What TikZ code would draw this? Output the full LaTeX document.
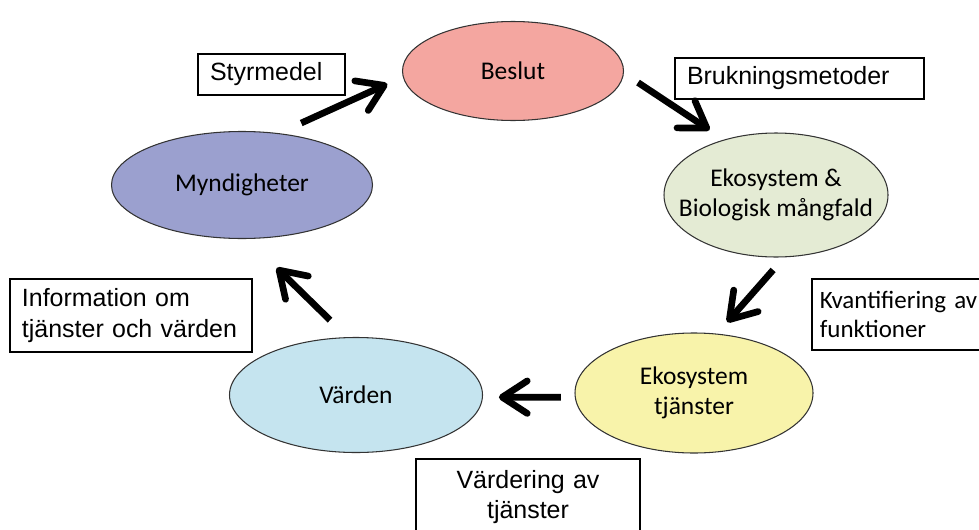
\documentclass[tikz,border=0pt]{standalone}
\usepackage{fontspec}
\setmainfont{Carlito}
\newfontfamily\arialfont{Liberation Sans}
\usepackage{tikz}
\usetikzlibrary{shapes.geometric,arrows.meta,positioning}
\definecolor{beslutfill}{RGB}{244,166,160}
\definecolor{myndfill}{RGB}{155,160,207}
\definecolor{ekofill}{RGB}{228,235,212}
\definecolor{tjanstfill}{RGB}{248,243,170}
\definecolor{vardenfill}{RGB}{197,228,239}

\begin{document}
\begin{tikzpicture}[
  eco/.style={ellipse,draw=black!80,line width=0.6pt,inner sep=0pt,outer sep=0pt,align=center,font=\fontsize{14.5}{17}\selectfont},
  tag/.style={rectangle,draw=black,line width=0.9pt,inner xsep=0.24cm,inner ysep=0pt,font=\arialfont\fontsize{14.2}{17.5}\selectfont},
  flow/.style={-{Straight Barb[length=5mm,width=6.5mm,round]},line width=3.8pt}
]
%
\useasboundingbox (0,0) rectangle (19.58cm,10.58cm);
%
\node[eco,fill=beslutfill,minimum width=4.42cm,minimum height=1.98cm] (v0) at (10.26cm,9.16cm) {Beslut};
\node[eco,fill=myndfill,minimum width=5.22cm,minimum height=2.14cm] (v1) at (4.84cm,6.88cm) {Myndigheter};
\node[eco,fill=ekofill,minimum width=4.48cm,minimum height=2.48cm,inner xsep=-0.6cm] (v2) at (15.52cm,6.68cm) {Ekosystem \&\\Biologisk mångfald};
\node[eco,fill=tjanstfill,minimum width=4.76cm,minimum height=2.40cm] (v3) at (13.88cm,2.72cm) {Ekosystem\\tjänster};
\node[eco,fill=vardenfill,minimum width=5.06cm,minimum height=2.30cm] (v4) at (7.12cm,2.68cm) {Värden};
%
\node[tag,text width=2.46cm,align=left,minimum height=0.82cm] (b0) at (5.43cm,9.09cm) {Styrmedel};
\node[tag,text width=4.50cm,align=left,minimum height=0.82cm] (b1) at (15.99cm,9.01cm) {Brukningsmetoder};
\node[tag,font=\fontsize{14.2}{16.5}\selectfont,inner xsep=0.16cm,text width=3.4cm,align=left,minimum height=1.42cm,anchor=west] (b2) at (16.22cm,4.29cm) {Kvantifiering av\\funktioner};
\node[tag,text width=4.36cm,align=left,minimum height=1.46cm] (b3) at (2.62cm,4.27cm) {Information om\\tjänster och värden};
\node[tag,text width=4.00cm,align=center,minimum height=1.52cm] (b4) at (10.56cm,0.64cm) {Värdering av\\tjänster};
%
\draw[flow,shorten <=0.51cm,shorten >=0.35cm] (v1.55) -- (v0.183);
\draw[flow,shorten <=0.35cm,shorten >=0.36cm] (v0.359) -- (v2.133);
\draw[flow,shorten <=0.35cm,shorten >=0.32cm] (v2.278) -- (v3.69);
\draw[flow,shorten <=0.29cm,shorten >=0.33cm] (v3.182) -- (v4.359);
\draw[flow,shorten <=0.50cm,shorten >=0.84cm] (v4.98) -- (v1.275);
%
\end{tikzpicture}
\end{document}
